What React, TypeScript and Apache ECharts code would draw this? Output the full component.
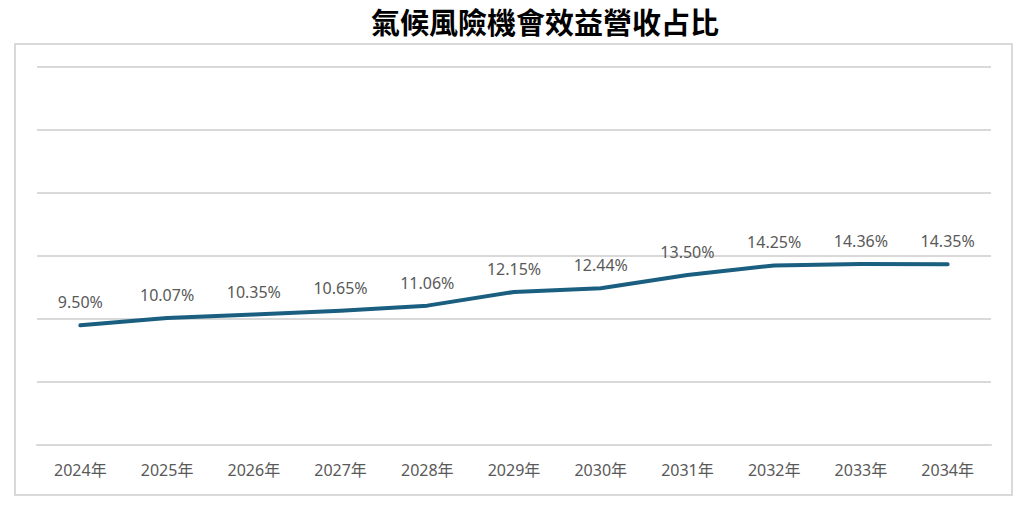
import React, { useEffect, useRef } from "react";
import * as echarts from "echarts";

const years = ["2024年", "2025年", "2026年", "2027年", "2028年", "2029年", "2030年", "2031年", "2032年", "2033年", "2034年"];
const shares = [9.5, 10.07, 10.35, 10.65, 11.06, 12.15, 12.44, 13.5, 14.25, 14.36, 14.35];
const titleText = "氣候風險機會效益營收占比";

const textFont = '"Noto Sans", "Noto Sans CJK TC", sans-serif';
const gray = "#595959";
const lineGray = "#D9D9D9";
const lineBlue = "#1A5E80";

export default function App() {
  const ref = useRef<HTMLDivElement>(null);

  useEffect(() => {
    if (!ref.current) return;
    const chart = echarts.init(ref.current, null, { renderer: "svg" });
    chart.setOption({
      animation: false,
      backgroundColor: "#ffffff",
      graphic: [
        {
          type: "rect",
          shape: { x: 15, y: 44, width: 997, height: 451 },
          style: { fill: "none", stroke: lineGray, lineWidth: 2 },
          z: -1,
        },
        {
          type: "text",
          x: 545,
          y: 21,
          style: {
            text: titleText,
            fontFamily: '"Noto Sans CJK TC", "Noto Sans CJK SC", sans-serif',
            fontWeight: "bold",
            fontSize: 29,
            fill: "#000000",
            align: "center",
            verticalAlign: "middle",
          },
        },
      ],
      grid: { left: 37, right: 34, top: 67, bottom: 60 },
      xAxis: {
        type: "category",
        data: years,
        boundaryGap: true,
        axisLine: { show: true, lineStyle: { color: lineGray, width: 2 } },
        axisTick: { show: false },
        axisLabel: {
          color: gray,
          fontSize: 16,
          fontFamily: textFont,
          margin: 17,
        },
      },
      yAxis: {
        type: "value",
        min: 0,
        max: 30,
        interval: 5,
        axisLabel: { show: false },
        axisLine: { show: false },
        axisTick: { show: false },
        splitLine: { lineStyle: { color: lineGray, width: 2 } },
      },
      series: [
        {
          type: "line",
          data: shares,
          symbol: "circle",
          symbolSize: 2,
          itemStyle: { color: lineBlue },
          lineStyle: { color: lineBlue, width: 4, cap: "round", join: "round" },
          label: {
            show: true,
            position: "top",
            distance: 14,
            color: gray,
            fontSize: 16,
            fontFamily: textFont,
            formatter: (p: any) => Number(p.value).toFixed(2) + "%",
          },
        },
      ],
    });
    return () => chart.dispose();
  }, []);

  return (
    <div
      ref={ref}
      style={{ position: "absolute", left: 0, top: 0, width: 1025, height: 505 }}
    />
  );
}
